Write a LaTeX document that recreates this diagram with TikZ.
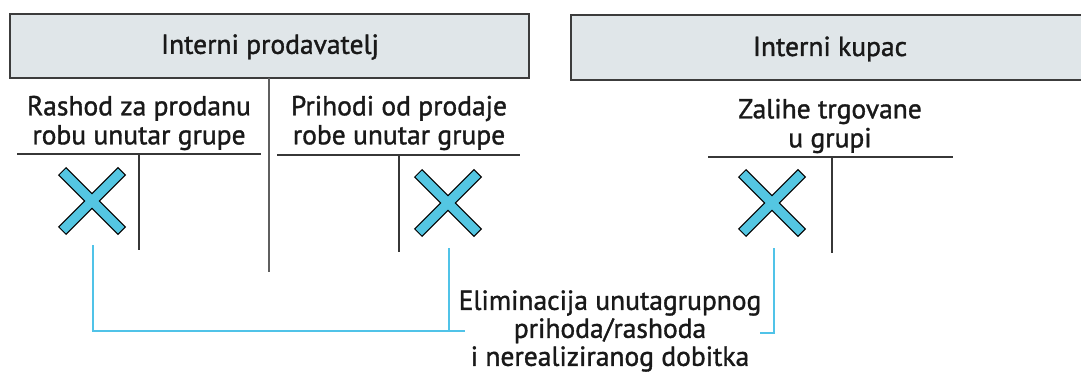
\documentclass[tikz,border=0pt]{standalone}
\usepackage{fontspec}
\setmainfont{PT Sans}[FakeBold=1.3]
\definecolor{boxfill}{RGB}{224,230,233}
\definecolor{boxline}{RGB}{60,60,60}
\definecolor{tline}{RGB}{55,55,55}
\definecolor{xcyan}{RGB}{84,198,226}
\definecolor{conn}{RGB}{80,195,232}
\definecolor{txt}{RGB}{25,25,25}
\usetikzlibrary{calc}
\tikzset{
  header/.style={fill=boxfill},
  headerline/.style={draw=boxline, line width=1.4pt},
  tacc/.style={draw=tline, line width=1.3pt},
  lbl/.style={text=txt, align=center, inner sep=0pt, font=\fontsize{27.5}{29}\selectfont},
  connector/.style={draw=conn, line width=2pt},
  xmark/.style={minimum size=66pt, inner sep=0pt},
}
\newcommand{\crossmark}[1]{%
  \draw[black, line width=11.5pt] ($(#1)+(-30pt,30pt)$) -- ($(#1)+(30pt,-30pt)$);
  \draw[black, line width=11.5pt] ($(#1)+(-30pt,-30pt)$) -- ($(#1)+(30pt,30pt)$);
  \draw[xcyan, line width=9pt] ($(#1)+(-29.2pt,29.2pt)$) -- ($(#1)+(29.2pt,-29.2pt)$);
  \draw[xcyan, line width=9pt] ($(#1)+(-29.2pt,-29.2pt)$) -- ($(#1)+(29.2pt,29.2pt)$);
}
\begin{document}
\begin{tikzpicture}[x=1pt, y=-1pt]
\useasboundingbox (0,0) rectangle (1081,374);
% header boxes
\fill[header] (10,14) rectangle (529,78);
\draw[headerline] (10,14) rectangle (529,78);
\node[lbl] (hleft) at (270,47) {Interni prodavatelj};
\fill[header] (571,15) rectangle (1081,80);
\draw[headerline] (1081,15) -- (571,15) -- (571,80) -- (1081,80);
\node[lbl] (hright) at (830,49) {Interni kupac};
% central line
\coordinate (c1) at (269,78);
\coordinate (c2) at (269,272);
\draw[draw=tline!80, line width=1.3pt] (c1) -- (c2);
% T account 1
\node[lbl] (t1) at (139,123) {Rashod za prodanu\\robu unutar grupe};
\draw[tacc] (17,154) -- (261,154);
\draw[tacc] (139,154) -- (139,250);
% T account 2
\node[lbl] (t2) at (399,123) {Prihodi od prodaje\\robe unutar grupe};
\draw[tacc] (277,155) -- (520,155);
\draw[tacc] (399,155) -- (399,252);
% T account 3
\node[lbl] (t3) at (830,126) {Zalihe trgovane\\u grupi};
\draw[tacc] (708,157) -- (953,157);
\draw[tacc] (832,157) -- (832,253);
% X marks
\node[xmark] (x1) at (92,201) {};
\node[xmark] (x2) at (448,203) {};
\node[xmark] (x3) at (772,203) {};
\crossmark{x1}
\crossmark{x2}
\crossmark{x3}
% connectors
\coordinate (a1) at (93,245);
\coordinate (a2) at (93,331);
\coordinate (b1) at (449,248);
\coordinate (b2) at (449,331);
\coordinate (a3) at (465,331);
\coordinate (d1) at (774,248);
\coordinate (d2) at (774,333);
\coordinate (d3) at (760,333);
\draw[connector] (a1) -- (a2) -- (a3);
\draw[connector] (b1) -- (b2);
\draw[connector] (d1) -- (d2) -- (d3);
\node[lbl, font=\fontsize{27.5}{28}\selectfont] (elim) at (610,331) {Eliminacija unutagrupnog\\prihoda/rashoda\\i nerealiziranog dobitka};
\end{tikzpicture}
\end{document}
